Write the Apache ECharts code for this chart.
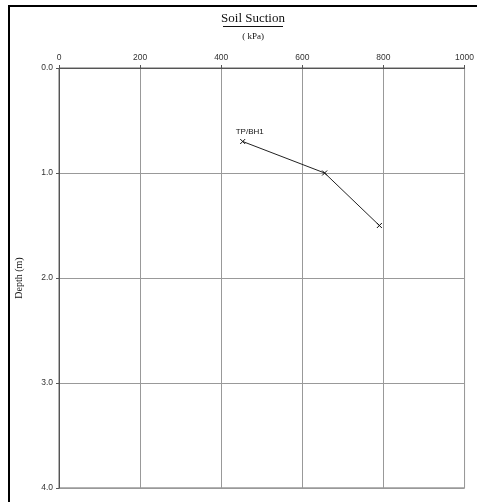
<!DOCTYPE html>
<html>
<head>
<meta charset="utf-8">
<script src="https://cdn.jsdelivr.net/npm/echarts@6/dist/echarts.min.js"></script>
<style>html,body{margin:0;padding:0;background:#fff;}#c{width:477px;height:502px;}</style>
</head>
<body>
<div id="c"></div>
<script>
const suction = [453, 655, 790];
const depth = [0.7, 1.0, 1.5];
const seriesName = 'TP/BH1';
const xTicks = [0, 200, 400, 600, 800, 1000];
const yTicks = [0.0, 1.0, 2.0, 3.0, 4.0];

const SANS = '"Liberation Sans", Arial, sans-serif';
const SERIF = '"Liberation Serif", "Times New Roman", serif';
const chart = echarts.init(document.getElementById('c'), null, {renderer: 'canvas'});
const data = suction.map((s, i) => {
  const d = {value: [s, depth[i]]};
  if (i === 0) d.label = {show: true, formatter: seriesName, position: 'top', distance: 1, offset: [7, 0], fontFamily: SANS, fontSize: 8, color: '#111'};
  return d;
});
chart.setOption({
  animation: false,
  backgroundColor: '#fff',
  grid: {left: 59, top: 68, width: 406, height: 420, show: true, borderColor: '#666', borderWidth: 1, backgroundColor: 'transparent'},
  graphic: [
    {type: 'rect', shape: {x: 9, y: 6, width: 520, height: 540}, style: {fill: 'none', stroke: '#000', lineWidth: 2}, silent: true},
    {type: 'text', style: {text: 'Soil Suction', x: 253, y: 19, textAlign: 'center', textVerticalAlign: 'middle', font: '13px ' + SERIF, fill: '#111'}, silent: true},
    {type: 'line', shape: {x1: 223, y1: 26.5, x2: 283, y2: 26.5}, style: {stroke: '#111', lineWidth: 1}, silent: true},
    {type: 'text', style: {text: '( kPa)', font: '9px ' + SERIF, fill: '#111', x: 253, y: 37, textAlign: 'center', textVerticalAlign: 'middle'}, silent: true}
  ],
  xAxis: {
    type: 'value', position: 'top', min: xTicks[0], max: xTicks[xTicks.length - 1], interval: 200,
    axisLine: {show: true, lineStyle: {color: '#555', width: 1}},
    axisTick: {show: true, length: 3, lineStyle: {color: '#555'}},
    axisLabel: {fontFamily: SANS, fontSize: 8.5, color: '#333', margin: 6, formatter: v => String(v)},
    splitLine: {show: true, lineStyle: {color: '#999', width: 1}}
  },
  yAxis: {
    type: 'value', inverse: true, min: yTicks[0], max: yTicks[yTicks.length - 1], interval: 1,
    name: 'Depth (m)', nameLocation: 'middle', nameGap: 35, nameRotate: 90,
    nameTextStyle: {fontFamily: SERIF, fontSize: 10, color: '#111'},
    axisLine: {show: true, lineStyle: {color: '#555', width: 1}},
    axisTick: {show: true, length: 3, lineStyle: {color: '#555'}},
    axisLabel: {fontFamily: SANS, fontSize: 8.5, color: '#333', margin: 6, formatter: v => v.toFixed(1)},
    splitLine: {show: true, lineStyle: {color: '#999', width: 1}}
  },
  series: [{
    name: seriesName, type: 'line', data: data,
    symbol: 'path://M0,0L10,10M10,0L0,10', symbolSize: 5,
    itemStyle: {color: 'none', borderColor: '#111', borderWidth: 1},
    lineStyle: {color: '#222', width: 1},
    z: 5
  }]
});
</script>
</body>
</html>
